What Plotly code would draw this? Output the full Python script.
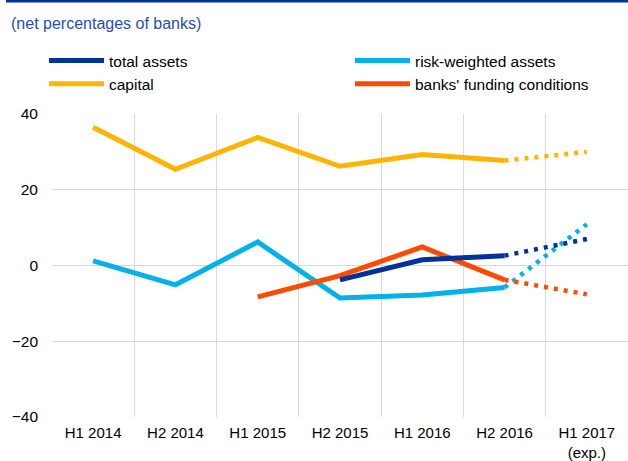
import plotly.graph_objects as go

categories = ["H1 2014", "H2 2014", "H1 2015", "H2 2015", "H1 2016", "H2 2016", "H1 2017<br>(exp.)"]

total_assets = [None, None, None, -3.8, 1.5, 2.6]
total_assets_exp = 7.0
risk_weighted = [1.2, -5.1, 6.2, -8.6, -7.8, -5.8]
risk_weighted_exp = 10.9
capital = [36.5, 25.4, 33.8, 26.2, 29.3, 27.7]
capital_exp = 30.0
funding = [None, None, -8.3, -2.7, 4.9, -3.8]
funding_exp = -7.6

series = [
    ("total assets", total_assets, total_assets_exp, "#003299", "legend"),
    ("risk-weighted assets", risk_weighted, risk_weighted_exp, "#00B1EA", "legend2"),
    ("capital", capital, capital_exp, "#FFB400", "legend"),
    ("banks' funding conditions", funding, funding_exp, "#FF4B00", "legend2"),
]

W, H = 628, 461
ML, MR, MT, MB = 52, 0, 114, 44
plot_w = W - ML - MR
plot_h = H - MT - MB


def px_x(p):
    return (p - ML) / plot_w


def px_y(p):
    return (H - MB - p) / plot_h


fig = go.Figure()
draw_order = [2, 1, 3, 0]
for idx in draw_order:
    name, vals, exp, color, leg = series[idx]
    fig.add_trace(go.Scatter(
        x=categories[:6], y=vals, mode="lines", name=name,
        line=dict(color=color, width=5), legendgroup=name, legend=leg,
        legendrank=idx + 1, connectgaps=False, hoverinfo="skip",
    ))
    fig.add_trace(go.Scatter(
        x=[categories[5], categories[6]], y=[vals[5], exp], mode="lines",
        line=dict(color=color, width=4.5, dash="4px,6px"),
        legendgroup=name, legend=leg, showlegend=False, hoverinfo="skip",
    ))

legend_common = dict(
    orientation="v", xanchor="left", yanchor="top",
    font=dict(size=15.5, color="#000000"), traceorder="normal",
    tracegroupgap=0, bgcolor="rgba(0,0,0,0)", itemwidth=55, borderwidth=0,
)

fig.update_layout(
    width=W, height=H,
    margin=dict(l=ML, r=MR, t=MT, b=MB, autoexpand=False),
    paper_bgcolor="white", plot_bgcolor="white",
    font=dict(family="Liberation Sans, Arial, sans-serif", size=15.5, color="#000000"),
    showlegend=True,
    legend=dict(x=px_x(44), y=px_y(44), **legend_common),
    legend2=dict(x=px_x(350), y=px_y(44), **legend_common),
    xaxis=dict(
        type="category", categoryorder="array", categoryarray=categories,
        tickson="boundaries", showgrid=True, gridcolor="#D9D9D9", gridwidth=1,
        ticks="", ticklabelstandoff=5,
        showline=False, tickfont=dict(size=15),
        range=[-0.5, 6.5],
    ),
    yaxis=dict(
        range=[-40, 40], dtick=20, showgrid=True, gridcolor="#D9D9D9", gridwidth=1,
        zeroline=True, zerolinecolor="#D9D9D9", zerolinewidth=1,
        ticks="", ticklabelstandoff=13,
        tickfont=dict(size=15.5), showline=False,
    ),
)

fig.add_annotation(
    text="(net percentages of banks)",
    x=px_x(9), y=px_y(24),
    xref="paper", yref="paper", xanchor="left", yanchor="middle",
    showarrow=False, font=dict(size=16, color="#1F4FAF"),
)
fig.add_shape(
    type="rect", xref="paper", yref="paper",
    x0=px_x(6), x1=px_x(W), y0=px_y(2.5), y1=px_y(0),
    fillcolor="#003299", line=dict(width=0),
)

fig.write_html("out.html", config={"displayModeBar": False},
               post_script="document.body.style.margin='0';")
